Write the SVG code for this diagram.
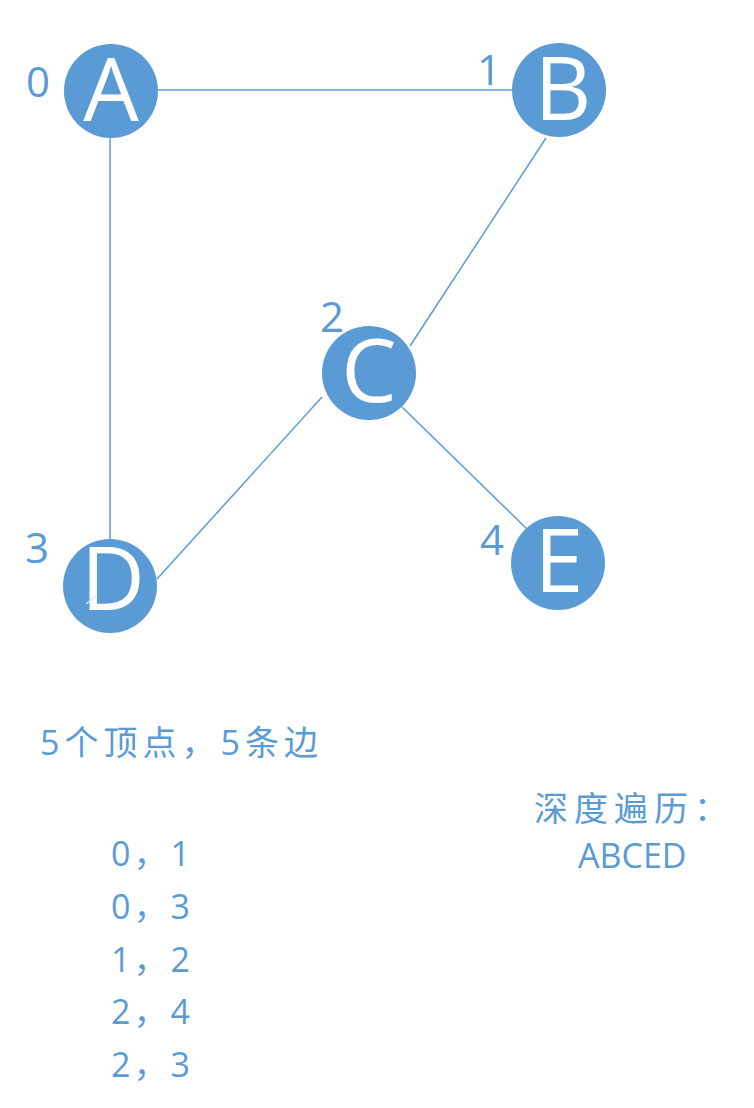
<svg xmlns="http://www.w3.org/2000/svg" width="754" height="1108" viewBox="0 0 754 1108">
<style>
.node{fill:#5b9bd5;}
.ltr{fill:#ffffff;font-family:"Open Sans","Liberation Sans",sans-serif;font-size:88px;text-anchor:middle;}
.idx{fill:#5b9bd5;font-family:"Open Sans","Liberation Sans",sans-serif;font-size:42px;}
.edge{stroke:#5b9bd5;stroke-width:1.5;fill:none;}
.txt{fill:#5b9bd5;font-family:"Open Sans","Noto Sans CJK SC",sans-serif;font-size:34px;}
.lst{letter-spacing:3px;}
</style>
<rect width="754" height="1108" fill="#ffffff"/>
<g id="edges">
<line class="edge" x1="157" y1="90" x2="513" y2="90"/>
<line class="edge" x1="110" y1="137" x2="110" y2="540"/>
<line class="edge" x1="546" y1="138" x2="410" y2="346"/>
<line class="edge" x1="322" y1="397" x2="157" y2="579"/>
<line class="edge" x1="402" y1="407" x2="528" y2="530"/>
</g>
<g id="nodeA"><circle class="node" cx="111" cy="91" r="47"/><text class="ltr" x="111" y="121">A</text><text class="idx" x="26" y="97">0</text></g>
<g id="nodeB"><circle class="node" cx="559" cy="90" r="47"/><text class="ltr" x="563" y="120">B</text><text class="idx" x="477" y="85">1</text></g>
<g id="nodeC"><circle class="node" cx="369" cy="373" r="47"/><text class="ltr" x="369" y="402">C</text><text class="idx" x="320" y="332">2</text></g>
<g id="nodeD"><circle class="node" cx="110" cy="586" r="47"/><text class="ltr" x="113" y="610">D</text><text class="idx" x="25" y="563">3</text><line x1="86" y1="604" x2="97" y2="595" stroke="#dce9f6" stroke-width="1.5"/></g>
<g id="nodeE"><circle class="node" cx="558" cy="563" r="47"/><text class="ltr" x="559" y="592">E</text><text class="idx" x="480" y="555">4</text></g>
<g id="texts">
<text class="txt" x="40" y="755" font-size="40" letter-spacing="5">5个顶点，5条边</text>
<text class="txt" x="534" y="821" font-size="38" letter-spacing="6">深度遍历：</text>
<text class="txt" x="578" y="868">ABCED</text>
<text class="txt lst" x="111" y="866">0，1</text>
<text class="txt lst" x="111" y="919">0，3</text>
<text class="txt lst" x="111" y="972">1，2</text>
<text class="txt lst" x="111" y="1024">2，4</text>
<text class="txt lst" x="111" y="1077">2，3</text>
</g>
</svg>
